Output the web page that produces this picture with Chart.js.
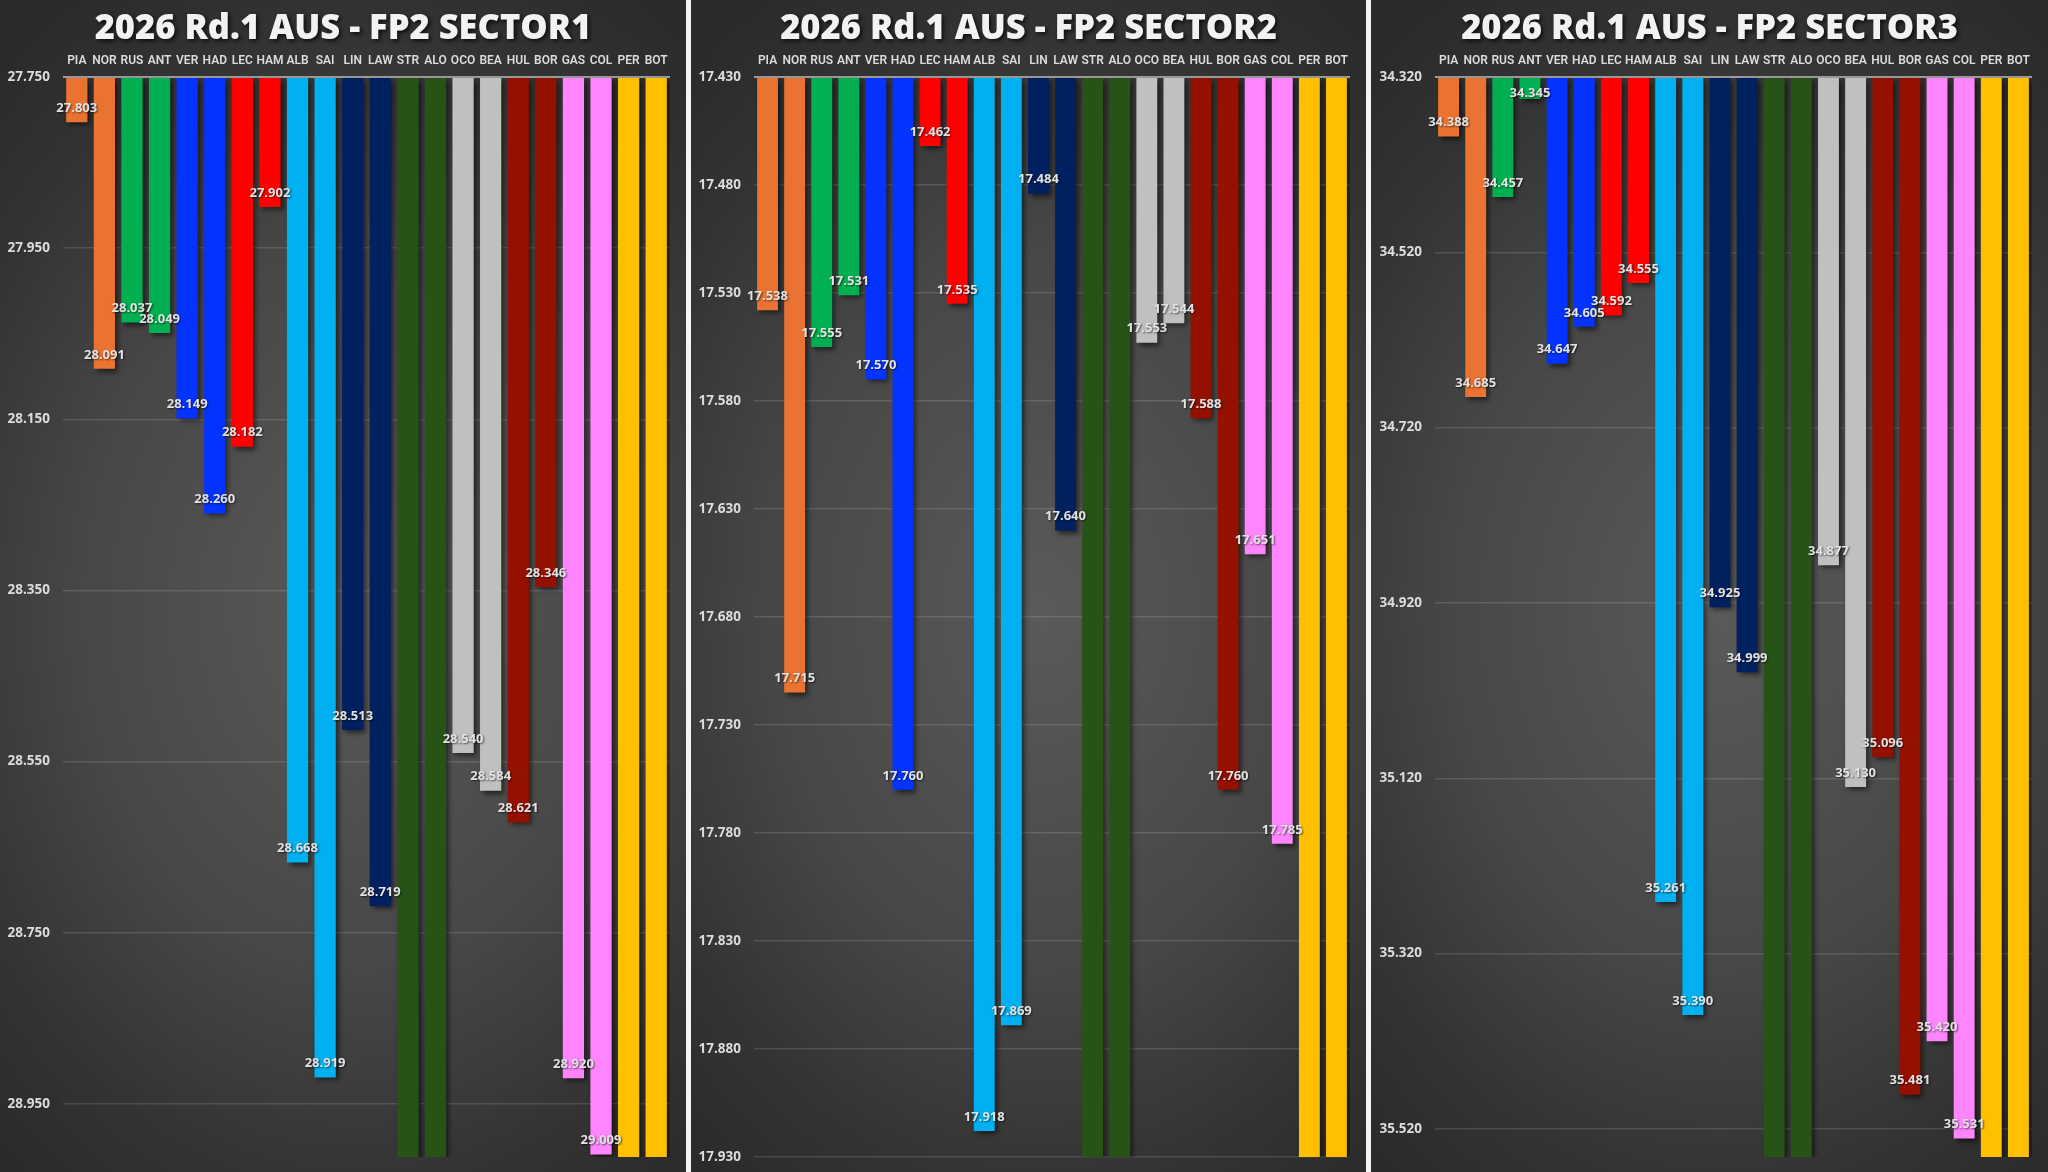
<!DOCTYPE html>
<html><head><meta charset="utf-8">
<script src="https://cdn.jsdelivr.net/npm/chart.js@4.4.1/dist/chart.umd.min.js"></script>
<style>
html,body{margin:0;padding:0;background:#f4f4f4;width:2048px;height:1172px;overflow:hidden}
.panel{position:absolute;top:0;height:1172px;
 background:radial-gradient(ellipse 80% 62% at 52% 52%, #5a5a5a 0%, #474747 50%, #333 80%, #2a2a2a 100%);}
canvas{display:block}
</style></head><body>
<div class="panel" style="left:0;width:686px"><canvas id="c1" width="686" height="1172"></canvas></div>
<div class="panel" style="left:691px;width:675px"><canvas id="c2" width="675" height="1172"></canvas></div>
<div class="panel" style="left:1371px;width:677px"><canvas id="c3" width="677" height="1172"></canvas></div>
<script>
// ---- data ----
const drivers = ['PIA','NOR','RUS','ANT','VER','HAD','LEC','HAM','ALB','SAI','LIN','LAW','STR','ALO','OCO','BEA','HUL','BOR','GAS','COL','PER','BOT'];
const teamColors = ['#EB7331','#EB7331','#00B050','#00B050','#0433FF','#0433FF','#FF0000','#FF0000','#00B0F0','#00B0F0','#002060','#002060','#275317','#275317','#C0C0C0','#C0C0C0','#941100','#941100','#FF85FF','#FF85FF','#FFC000','#FFC000'];
const sector1 = [27.803,28.091,28.037,28.049,28.149,28.260,28.182,27.902,28.668,28.919,28.513,28.719,null,null,28.540,28.584,28.621,28.346,28.920,29.009,null,null];
const sector2 = [17.538,17.715,17.555,17.531,17.570,17.760,17.462,17.535,17.918,17.869,17.484,17.640,null,null,17.553,17.544,17.588,17.760,17.651,17.785,null,null];
const sector3 = [34.388,34.685,34.457,34.345,34.647,34.605,34.592,34.555,35.261,35.390,34.925,34.999,null,null,34.877,35.130,35.096,35.481,35.420,35.531,null,null];
const ticks1 = ['27.750','27.950','28.150','28.350','28.550','28.750','28.950'];
const ticks2 = ['17.430','17.480','17.530','17.580','17.630','17.680','17.730','17.780','17.830','17.880','17.930'];
const ticks3 = ['34.320','34.520','34.720','34.920','35.120','35.320','35.520'];
const range1 = [27.750, 29.012];
const range2 = [17.430, 17.930];
const range3 = [34.320, 35.552];
const titles = ['2026 Rd.1 AUS - FP2 SECTOR1','2026 Rd.1 AUS - FP2 SECTOR2','2026 Rd.1 AUS - FP2 SECTOR3'];

function makeChart(id, title, values, range, tickLabels, yWidth){
  const [yMin, yMax] = range;
  const plotted = values.map(v => v == null ? yMax : v);
  const titlePlugin = {
    id:'ttl',
    afterDraw(chart){
      const ctx = chart.ctx; ctx.save();
      ctx.font = '800 34.5px "Open Sans"';
      ctx.textAlign='center'; ctx.textBaseline='middle';
      ctx.shadowColor='rgba(0,0,0,0.75)'; ctx.shadowBlur=4; ctx.shadowOffsetX=2; ctx.shadowOffsetY=2;
      ctx.fillStyle='#f2f2f2';
      ctx.fillText(title, chart.width/2, 29);
      ctx.restore();
    }
  };
  const shadowPlugin = {
    id:'shd',
    beforeDatasetsDraw(chart){ const c=chart.ctx; c.save(); c.shadowColor='rgba(0,0,0,0.55)'; c.shadowBlur=5; c.shadowOffsetX=3; c.shadowOffsetY=3; },
    afterDatasetsDraw(chart){ chart.ctx.restore(); }
  };
  const labelPlugin = {
    id:'vals',
    afterDatasetsDraw(chart){
      const ctx = chart.ctx; const meta = chart.getDatasetMeta(0);
      ctx.save();
      ctx.font = '700 13px "Open Sans"';
      ctx.textAlign='center'; ctx.textBaseline='middle';
      ctx.shadowColor='rgba(0,0,0,0.6)'; ctx.shadowBlur=2; ctx.shadowOffsetX=1; ctx.shadowOffsetY=1;
      ctx.fillStyle='#e2e2e2';
      meta.data.forEach((bar,i)=>{
        const v = values[i]; if (v == null) return;
        const y = Math.max(bar.y - 14, chart.chartArea.top + 16);
        ctx.fillText(v.toFixed(3), bar.x, y);
      });
      ctx.restore();
    }
  };
  return new Chart(document.getElementById(id), {
    type:'bar',
    data:{ labels: drivers, datasets:[{ data: plotted, backgroundColor: teamColors, base: yMin, borderWidth:0, barPercentage:0.77, categoryPercentage:1 }]},
    options:{
      responsive:false, animation:false,
      layout:{ padding:{ top:45, left:0, right:16, bottom:15 } },
      plugins:{ legend:{display:false}, tooltip:{enabled:false}, title:{display:false} },
      scales:{
        x:{ position:'top', grid:{display:false, drawTicks:false}, border:{display:false},
            ticks:{ color:'#dcdcdc', font:{family:'Roboto', weight:'600', size:12}, padding:9, autoSkip:false, maxRotation:0 },
            afterFit(a){ a.height = 32; a.paddingLeft = 0; a.paddingRight = 0; } },
        y:{ reverse:true, min:yMin, max:yMax,
            afterBuildTicks(a){ a.ticks = tickLabels.map(t => ({value: parseFloat(t)})); },
            ticks:{ color:'#dcdcdc', font:{family:'Open Sans', weight:'700', size:13.5}, padding:13,
                    callback:(v,i)=> tickLabels[i] },
            grid:{ drawTicks:false, color:(c)=> c.index===0 ? '#9a9a9a' : 'rgba(255,255,255,0.13)', lineWidth:(c)=> c.index===0 ? 2 : 1.5 },
            border:{display:false},
            afterFit(a){ a.width = yWidth; a.paddingTop = 0; a.paddingBottom = 0; } }
      }
    },
    plugins:[shadowPlugin, labelPlugin, titlePlugin]
  });
}
makeChart('c1', titles[0], sector1, range1, ticks1, 63);
makeChart('c2', titles[1], sector2, range2, ticks2, 63);
makeChart('c3', titles[2], sector3, range3, ticks3, 64);
</script>
</body></html>
